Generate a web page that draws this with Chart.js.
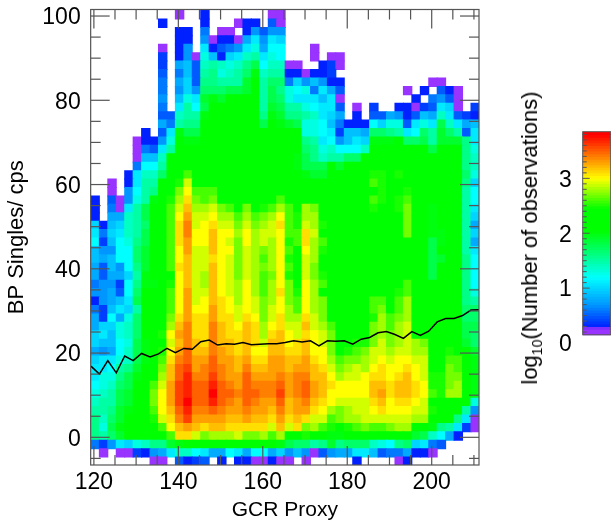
<!DOCTYPE html>
<html>
<head>
<meta charset="utf-8">
<title>BP Singles vs GCR Proxy</title>
<script src="https://cdn.jsdelivr.net/npm/chart.js@4"></script>
<style>
    html, body { margin: 0; padding: 0; background: #fff; overflow: hidden; }
    #wrap { position: relative; width: 611px; height: 527px; }
    canvas { position: absolute; left: 0; top: 0; }
    #barTitle {
        position: absolute; left: 530px; top: 238px; white-space: nowrap; color: #000;
        font: 22px "Liberation Sans", sans-serif;
        transform: translate(-50%, -50%) rotate(-90deg);
    }
    #barTitle sub { font-size: 14px; line-height: 0; }
</style>
</head>
<body>
<div id="wrap">
    <canvas id="heatmap" width="611" height="527"></canvas>
    <canvas id="colorbar" width="611" height="527"></canvas>
    <div id="barTitle">log<sub>10</sub>(Number of observations)</div>
</div>
<script>
const _ = null;

// Bin edges of the 2D histogram
const gcrEdges = [119.3,121.3,123.3,125.3,127.3,129.3,131.3,133.3,135.3,137.3,139.3,141.3,143.3,145.3,147.3,149.3,151.3,153.3,155.3,157.3,159.3,161.3,163.3,165.3,167.3,169.3,171.3,173.3,175.3,177.3,179.3,181.3,183.3,185.3,187.3,189.3,191.3,193.3,195.3,197.3,199.3,201.3,203.3,205.3,207.3,209.3,211.3];
const bpEdges = [101.3,99.3,97.3,95.3,93.3,91.3,89.3,87.3,85.3,83.3,81.3,79.3,77.3,75.3,73.3,71.3,69.3,67.3,65.3,63.3,61.3,59.3,57.3,55.3,53.3,51.3,49.3,47.3,45.3,43.3,41.3,39.3,37.3,35.3,33.3,31.3,29.3,27.3,25.3,23.3,21.3,19.3,17.3,15.3,13.3,11.3,9.3,7.3,5.3,3.3,1.3,-0.7,-2.7,-4.7,-6.7];

// log10(observations) x 10, top row first, empty bins are _
const logCounts = [
[_,_,_,_,_,_,_,_,_,_,0,_,_,3,_,_,_,_,_,_,_,0,0],
[_,_,_,_,_,_,_,_,3,_,_,_,_,3,_,_,_,0,3,3,_,5,0],
[_,_,_,_,_,_,_,_,_,_,3,3,_,6,_,0,0,_,3,7,5,7,7],
[_,_,_,_,_,_,_,_,_,_,3,3,_,7,0,3,3,0,8,11,7,11,10],
[_,_,_,_,_,_,_,_,0,_,3,7,_,11,3,5,6,7,11,13,8,12,12,_,_,_,0],
[_,_,_,_,_,_,_,_,4,_,3,7,0,13,9,3,10,11,14,15,11,13,12,_,_,_,0,_,0,0],
[_,_,_,_,_,_,_,_,4,_,8,9,5,14,15,14,13,14,16,18,12,14,14,0,0,_,_,3,4,0],
[_,_,_,_,_,_,_,_,5,_,6,9,5,15,16,13,14,15,17,20,14,15,15,3,3,0,3,3,4],
[_,_,_,_,_,_,_,_,6,_,8,10,5,16,16,15,15,15,19,21,15,17,17,6,10,7,9,7,3,3,_,_,_,_,_,_,_,_,_,_,0,0],
[_,_,_,_,_,_,_,_,6,_,7,10,7,17,17,17,18,18,19,21,15,18,16,13,12,13,6,11,8,5,_,_,_,_,_,_,_,0,_,3,_,5,3,0],
[_,_,_,_,_,_,_,_,7,_,9,13,11,19,20,19,21,21,22,22,15,18,17,13,11,11,11,9,11,0,_,_,_,_,_,_,_,_,3,_,6,7,5,0],
[_,_,_,_,_,_,_,_,6,_,11,15,12,18,21,22,22,22,22,22,15,19,18,15,15,13,12,11,11,5,_,0,_,4,_,_,3,3,0,4,5,11,10,0,_,4],
[_,_,_,_,_,_,_,_,5,5,14,15,15,20,22,22,22,22,22,22,16,20,19,16,16,15,14,11,10,8,_,3,_,5,5,8,7,3,5,9,8,14,11,5,4,3],
[_,_,_,_,_,_,_,_,8,6,15,16,16,21,22,22,22,22,22,22,18,21,20,19,18,13,13,12,9,6,3,3,3,12,10,13,13,5,11,13,11,18,14,11,8,9],
[_,_,_,_,_,_,3,_,5,11,20,18,18,22,22,22,22,22,22,22,22,22,22,22,21,13,13,12,11,4,9,9,8,17,17,16,15,11,12,17,15,19,17,15,5,11],
[_,_,_,_,_,0,3,3,7,13,21,20,20,22,22,22,22,22,22,22,22,22,22,22,22,16,15,11,12,7,9,11,10,20,20,20,21,17,17,18,15,19,19,19,16,11],
[_,_,_,_,_,0,6,5,11,15,21,22,22,22,22,22,22,22,22,22,22,22,22,22,21,17,16,13,14,12,12,12,14,21,21,21,22,22,21,21,18,21,22,22,16,13],
[_,_,_,_,_,0,9,9,14,23,23,23,23,23,23,23,23,23,23,23,23,23,23,23,20,18,16,14,15,15,17,17,21,22,22,22,22,22,22,22,22,22,22,22,16,14],
[_,_,_,_,_,6,12,12,15,23,23,23,23,23,23,23,23,23,23,23,23,23,23,23,20,18,18,18,22,19,21,23,23,23,23,23,23,23,23,23,23,23,23,23,16,14],
[_,_,_,_,3,11,14,14,17,22,22,26,22,22,24,22,22,22,22,22,22,22,22,22,22,20,19,19,22,22,22,22,22,25,25,22,25,22,22,22,22,22,22,22,17,13],
[_,_,0,_,3,11,15,15,21,22,25,29,22,22,22,22,22,22,22,22,22,22,22,22,22,22,22,22,22,22,22,22,22,26,25,22,22,22,22,22,22,22,22,22,16,10],
[_,_,0,_,7,12,15,16,21,23,27,30,26,26,26,22,22,22,22,22,22,22,22,22,22,22,22,22,22,22,22,22,22,22,25,22,22,25,22,22,22,22,22,22,15,12],
[3,_,5,0,7,13,15,20,21,25,28,31,27,26,27,22,22,22,23,22,22,22,26,22,22,22,22,22,22,22,22,22,22,26,25,22,25,26,22,22,22,22,22,22,15,12],
[3,_,6,0,11,15,18,21,22,26,29,32,28,28,29,27,26,24,27,22,25,26,28,26,22,28,27,22,22,22,22,22,22,25,22,22,25,27,22,22,20,22,22,22,15,11],
[3,_,8,8,14,15,18,21,22,26,30,33,29,29,30,28,28,26,28,26,27,28,30,26,25,28,28,24,22,22,22,22,22,22,22,22,24,27,22,22,20,22,22,22,15,10],
[10,3,9,10,14,15,17,21,22,26,31,34,29,30,31,29,29,27,29,27,28,29,31,26,25,29,28,25,22,22,22,22,22,22,22,22,22,27,22,22,20,22,22,22,15,8],
[11,6,10,11,14,15,18,21,22,26,31,34,30,30,32,30,30,28,30,28,29,29,30,26,26,31,29,24,22,22,22,22,22,22,22,22,22,27,22,22,20,20,22,22,15,10],
[12,4,9,12,13,16,18,21,22,26,31,33,30,30,32,30,29,27,30,28,29,28,30,25,26,31,28,26,22,22,22,22,22,22,22,22,22,22,22,22,18,20,22,22,15,8],
[9,7,7,12,12,17,19,21,22,26,30,33,29,29,32,30,30,27,29,28,27,28,30,26,24,30,28,25,22,22,22,22,22,22,22,22,22,22,22,22,18,21,22,22,15,11],
[9,8,9,12,12,17,19,21,22,26,30,32,29,29,31,30,29,27,29,28,26,28,30,25,24,29,28,24,22,22,22,22,22,22,22,22,22,22,22,22,18,19,22,22,16,12],
[8,5,9,7,12,16,19,21,22,26,31,32,29,29,32,30,29,27,29,28,27,28,30,26,24,29,27,23,22,22,22,22,22,22,22,22,22,22,22,22,18,22,22,22,16,12],
[8,5,8,8,10,15,20,21,22,24,30,32,29,28,32,30,29,27,29,28,26,27,30,25,22,29,27,25,22,22,22,22,22,22,22,22,22,22,22,22,18,22,22,22,16,12],
[6,7,7,4,12,16,20,20,22,25,30,32,29,28,32,30,29,28,30,28,26,28,30,27,23,30,28,26,22,22,22,22,22,22,22,22,22,26,22,22,22,22,22,22,16,12],
[7,7,8,5,12,17,22,22,22,26,30,33,29,29,32,30,29,28,30,28,26,28,31,27,25,30,28,24,22,22,22,22,22,22,22,22,25,26,22,22,22,22,22,22,16,13],
[3,7,8,9,11,18,21,22,22,26,30,33,29,30,32,31,30,28,30,29,27,28,30,27,26,30,28,27,22,22,22,22,22,26,26,22,26,28,22,22,22,22,22,22,16,15],
[6,4,9,11,10,15,21,22,22,26,30,33,30,30,33,31,30,29,30,29,27,29,30,28,26,30,28,27,22,22,22,22,22,26,27,22,26,28,22,22,22,22,22,22,17,17],
[8,4,12,8,13,17,22,22,22,27,31,33,31,31,33,31,31,29,31,30,27,29,31,28,28,31,29,27,22,22,22,22,22,25,28,26,27,28,22,22,22,22,22,22,17,17],
[8,10,10,13,14,17,23,23,23,28,32,34,31,31,34,32,31,30,32,31,28,30,31,29,29,32,29,28,26,22,22,22,22,27,28,26,28,29,22,22,22,22,22,22,18,18],
[10,11,9,13,14,17,21,22,25,30,33,34,31,31,34,32,31,31,32,31,28,31,32,30,29,31,30,29,27,22,22,22,24,27,28,27,28,29,22,22,22,22,22,22,18,17],
[10,9,9,12,13,18,20,22,24,29,32,34,32,31,34,32,32,31,32,31,29,32,32,30,31,32,30,29,27,24,24,25,25,27,29,27,28,29,28,27,22,22,22,22,19,17],
[8,7,8,12,14,18,20,21,25,30,33,35,32,32,34,33,32,31,32,30,30,32,32,31,31,32,30,30,27,24,25,26,27,29,29,28,29,29,28,28,22,22,25,24,22,19],
[10,11,11,13,14,18,20,22,26,31,34,35,33,33,35,33,33,32,33,31,31,33,33,32,32,33,31,30,28,26,27,27,28,29,30,29,30,30,29,29,22,24,26,26,22,20],
[11,11,12,15,16,19,21,22,27,32,35,36,33,34,35,34,33,32,34,32,32,33,33,32,33,33,32,31,29,27,28,29,28,30,31,30,30,31,30,29,24,24,27,26,22,20],
[11,13,13,16,18,20,22,23,28,32,35,37,34,34,36,34,33,33,35,33,33,33,34,33,34,34,32,32,30,28,29,29,30,31,31,30,31,32,30,29,25,25,27,27,22,20],
[12,13,14,17,18,21,22,26,29,33,36,37,35,35,37,35,34,33,35,34,34,34,35,33,34,35,33,32,31,30,30,30,30,32,32,31,32,32,31,30,25,25,27,28,22,20],
[13,14,15,18,19,22,24,27,30,33,36,37,35,35,38,35,35,34,35,35,34,34,36,33,34,35,33,32,30,30,30,30,30,32,33,31,32,32,31,30,26,25,28,28,23,20],
[14,15,15,18,19,22,24,27,30,33,36,38,35,35,37,35,34,33,35,34,33,33,35,32,33,34,32,31,30,29,29,29,29,31,32,30,31,31,30,29,23,22,24,24,22,13],
[15,15,16,19,20,22,22,26,30,32,35,37,34,34,35,34,33,33,34,33,33,32,34,32,33,33,31,30,28,27,28,29,29,30,31,30,30,30,29,29,25,22,22,22,15,7],
[16,14,17,19,22,22,22,25,29,31,34,36,33,33,33,33,32,32,33,32,32,31,33,31,32,31,29,29,26,27,28,28,29,29,29,29,29,29,28,28,22,22,22,16,11,0],
[16,13,18,20,22,22,22,24,26,30,32,33,32,31,32,32,31,31,31,31,31,29,32,29,31,27,28,26,25,24,25,26,27,26,26,27,28,28,21,21,20,16,15,11,4,0],
[16,15,17,19,21,22,22,22,22,26,31,31,29,27,28,28,28,29,27,27,28,26,28,21,22,25,21,21,20,20,21,21,22,21,21,21,22,22,19,18,14,12,8,3],
[6,4,7,11,10,13,14,16,16,19,20,21,22,22,22,22,22,22,22,22,22,22,20,18,17,17,15,16,19,16,17,17,17,14,13,12,16,17,10,11,6,5],
[_,0,_,0,0,4,3,7,8,11,14,14,12,11,8,8,12,11,8,12,12,8,10,7,9,7,0,5,7,8,8,11,11,9,5,6,6,8,3,3,0],
[_,_,_,_,_,_,_,0,0,_,5,3,4,5,_,3,_,3,3,0,0,3,0,0,_,0,_,_,_,_,_,3,_,_,_,_,0,3]
];

// Black curve, one value per GCR bin edge
const meanSingles = [16.9,15.0,18.2,15.3,19.3,18.2,19.9,19.1,19.8,21.1,20.1,21.1,20.9,22.7,23.1,21.9,22.2,22.1,22.5,22.0,22.1,22.2,22.2,22.5,22.9,22.6,22.9,21.7,22.9,22.8,22.9,22.1,23.3,23.7,24.8,25.1,24.4,23.5,25.1,24.2,25.2,27.4,28.2,28.2,28.9,30.2,30.3];

const xLabelTicks = [120,140,160,180,200];
const xMinorTicks = [125,130,135,145,150,155,165,170,175,185,190,195,205,210];
const yLabelTicks = [0,20,40,60,80,100];
const yMinorTicks = [-5,5,10,15,25,30,35,45,50,55,65,70,75,85,90,95];

// Colour bar
const barEdges = [0.15,0.2,0.25,0.3,0.35,0.4,0.45,0.5,0.55,0.6,0.65,0.7,0.75,0.8,0.85,0.9,0.95,1,1.05,1.1,1.15,1.2,1.25,1.3,1.35,1.4,1.45,1.5,1.55,1.6,1.65,1.7,1.75,1.8,1.85,1.9,1.95,2,2.05,2.1,2.15,2.2,2.25,2.3,2.35,2.4,2.45,2.5,2.55,2.6,2.65,2.7,2.75,2.8,2.85,2.9,2.95,3,3.05,3.1,3.15,3.2,3.25,3.3,3.35,3.4,3.45,3.5,3.55,3.6,3.65,3.7,3.75,3.8,3.85];
const barLabelTicks = [0,1,2,3];
const barMinorTicks = [0.2,0.3,0.4,0.5,0.6,0.7,0.8,0.9,1.1,1.2,1.3,1.4,1.5,1.6,1.7,1.8,1.9,2.1,2.2,2.3,2.4,2.5,2.6,2.7,2.8,2.9,3.1,3.2,3.3,3.4,3.5,3.6,3.7,3.8];

const colorStops = [
    [0, [153,51,255]], [0.27, [153,51,255]], [0.3, [0,32,255]], [0.7, [0,150,255]],
    [1.2, [0,255,255]], [2.05, [0,255,0]], [2.45, [0,255,0]], [3.0, [255,255,0]], [3.8, [255,0,0]]
];

function levelColor(v) {
    for (let k = 1; k < colorStops.length; k++) {
        const [v0, c0] = colorStops[k - 1];
        const [v1, c1] = colorStops[k];
        if (v <= v1) {
            const t = (v - v0) / (v1 - v0);
            return `rgb(${c0.map((c, n) => Math.round(c + (c1[n] - c) * t)).join(',')})`;
        }
    }
    return 'rgb(255,0,0)';
}

Chart.defaults.font.family = '"Liberation Sans", sans-serif';
Chart.defaults.color = '#000';
Chart.defaults.animation = false;

const FRAME_COLOR = '#555';

function strokeLine(ctx, x0, y0, x1, y1) {
    ctx.beginPath();
    ctx.moveTo(x0, y0);
    ctx.lineTo(x1, y1);
    ctx.stroke();
}

// Labels may overhang the plot box, keep the box where it is
function pinScale(s, size) {
    if (s.isHorizontal()) s.height = size; else s.width = size;
    s.paddingTop = s.paddingBottom = s.paddingLeft = s.paddingRight = 0;
}

// Digits sit a little high on the middle baseline
function lowerLabels(s) {
    if (s.isHorizontal() || s._lowered) return;
    s._lowered = true;
    const draw = s.drawLabels;
    s.drawLabels = function(area) {
        s.ctx.save();
        s.ctx.translate(0, 2);
        draw.call(s, area);
        s.ctx.restore();
    };
}

// IDL style ticks on all four sides, drawn over the cells
const frameTicks = {
    id: 'frameTicks',
    afterDatasetsDraw(chart) {
        const { ctx, chartArea: a, scales: { x, y } } = chart;
        ctx.save();
        ctx.strokeStyle = FRAME_COLOR;
        ctx.lineWidth = 1.2;
        ctx.strokeRect(a.left, a.top, a.right - a.left, a.bottom - a.top);
        const xTick = (v, len) => {
            const p = x.getPixelForValue(v);
            strokeLine(ctx, p, a.bottom, p, a.bottom - len);
            strokeLine(ctx, p, a.top, p, a.top + len);
        };
        const yTick = (v, len) => {
            const p = y.getPixelForValue(v);
            strokeLine(ctx, a.left, p, a.left + len, p);
            strokeLine(ctx, a.right, p, a.right - len, p);
        };
        xLabelTicks.forEach(v => xTick(v, 19));
        xMinorTicks.forEach(v => xTick(v, 10));
        yLabelTicks.forEach(v => yTick(v, 19));
        yMinorTicks.forEach(v => yTick(v, 10));
        ctx.restore();
    }
};

const barFrame = {
    id: 'barFrame',
    afterDatasetsDraw(chart) {
        const { ctx, chartArea: a, scales: { y } } = chart;
        const top = y.getPixelForValue(barEdges[barEdges.length - 1]);
        const bottom = y.getPixelForValue(barEdges[0]);
        ctx.save();
        ctx.strokeStyle = FRAME_COLOR;
        ctx.lineWidth = 1;
        ctx.strokeRect(a.left, top, a.right - a.left, bottom - top);
        barLabelTicks.slice(1).forEach(v => strokeLine(ctx, a.left, y.getPixelForValue(v), a.left + 7, y.getPixelForValue(v)));
        barMinorTicks.forEach(v => strokeLine(ctx, a.left, y.getPixelForValue(v), a.left + 4, y.getPixelForValue(v)));
        ctx.restore();
    }
};

document.addEventListener('DOMContentLoaded', function() {
    const cells = [];
    const cellColors = [];
    logCounts.forEach((row, j) => {
        row.forEach((v, i) => {
            if (v === null) return;
            cells.push({ x: (gcrEdges[i] + gcrEdges[i + 1]) / 2, y: [bpEdges[j + 1], bpEdges[j]] });
            cellColors.push(levelColor(v / 10));
        });
    });

    new Chart(document.getElementById('heatmap'), {
        type: 'bar',
        plugins: [frameTicks],
        data: {
            datasets: [{
                type: 'line',
                data: meanSingles.map((v, i) => ({ x: gcrEdges[i], y: v })),
                borderColor: '#000',
                borderWidth: 1.5,
                pointRadius: 0,
                tension: 0,
                order: 0
            }, {
                data: cells,
                backgroundColor: cellColors,
                barPercentage: 1,
                categoryPercentage: 1,
                inflateAmount: 0.5,
                order: 1
            }]
        },
        options: {
            responsive: false,
            layout: { padding: { left: 0, top: 9.5, right: 132, bottom: 0 } },
            plugins: { legend: { display: false }, tooltip: { enabled: false } },
            scales: {
                x: {
                    type: 'linear',
                    offset: false,
                    min: 119.24,
                    max: 211.2,
                    afterBuildTicks: s => { s.ticks = xLabelTicks.map(v => ({ value: v })); },
                    afterFit: s => pinScale(s, 62),
                    grid: { display: false, drawTicks: false },
                    border: { display: false },
                    ticks: { font: { size: 23 }, padding: 4, maxRotation: 0, autoSkip: false, callback: v => String(v) },
                    title: { display: true, text: 'GCR Proxy', font: { size: 21 }, padding: 4 }
                },
                y: {
                    type: 'linear',
                    min: -6.57,
                    max: 101.55,
                    afterBuildTicks: s => { s.ticks = yLabelTicks.map(v => ({ value: v })); },
                    afterFit: s => { pinScale(s, 90.67); lowerLabels(s); },
                    grid: { display: false, drawTicks: false },
                    border: { display: false },
                    ticks: { font: { size: 23 }, padding: 10, autoSkip: false, callback: v => String(v) },
                    title: { display: true, text: 'BP Singles/ cps', font: { size: 22 }, padding: 4 }
                }
            }
        }
    });

    new Chart(document.getElementById('colorbar'), {
        type: 'bar',
        plugins: [barFrame],
        data: {
            datasets: [{
                data: barEdges.slice(1).map((v, i) => ({ x: 0.5, y: [barEdges[i], v] })),
                backgroundColor: barEdges.slice(1).map((v, i) => levelColor((barEdges[i] + v) / 2)),
                barPercentage: 1,
                categoryPercentage: 1,
                inflateAmount: 0.5
            }]
        },
        options: {
            responsive: false,
            layout: { padding: { left: 0, top: 131.7, right: 0.3, bottom: 184 } },
            plugins: { legend: { display: false }, tooltip: { enabled: false } },
            scales: {
                x: {
                    type: 'linear',
                    offset: false,
                    min: 0,
                    max: 1,
                    display: false
                },
                y: {
                    type: 'linear',
                    min: 0,
                    max: 3.85,
                    afterBuildTicks: s => { s.ticks = barLabelTicks.map(v => ({ value: v })); },
                    afterFit: s => { pinScale(s, 582.7); lowerLabels(s); },
                    grid: { display: false, drawTicks: false },
                    border: { display: false },
                    ticks: { font: { size: 23 }, padding: 11, autoSkip: false, callback: v => String(v) }
                }
            }
        }
    });
});
</script>
</body>
</html>
